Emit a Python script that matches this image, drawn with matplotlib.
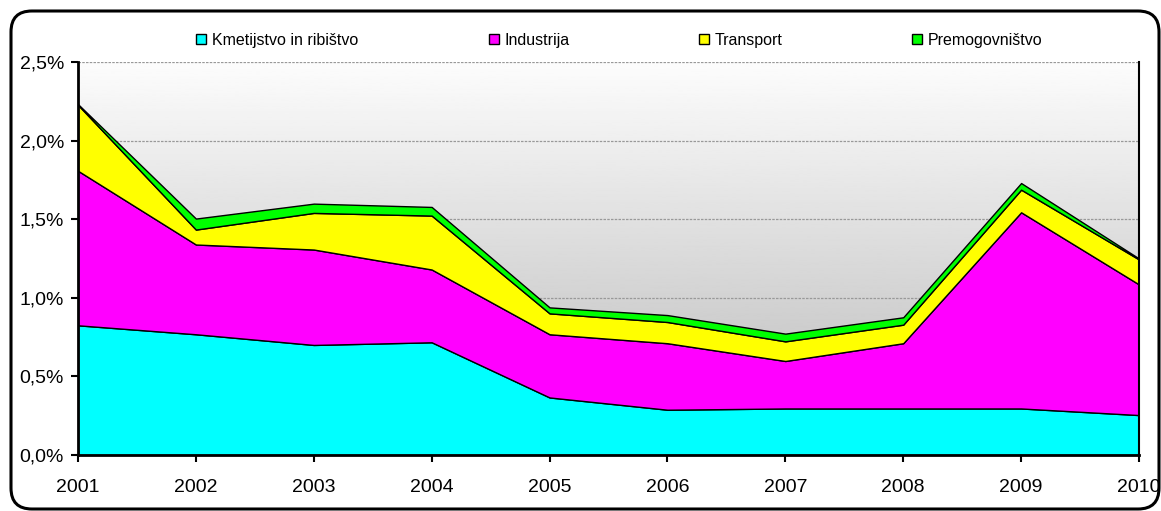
import numpy as np
import matplotlib.pyplot as plt
from matplotlib.patches import FancyBboxPatch, Patch
from matplotlib.ticker import FuncFormatter

plt.rcParams['font.family'] = ['Liberation Sans', 'DejaVu Sans']

# shares in %
years = [2001, 2002, 2003, 2004, 2005, 2006, 2007, 2008, 2009, 2010]
kmetijstvo = [0.825, 0.768, 0.700, 0.717, 0.366, 0.288, 0.296, 0.296, 0.296, 0.254]
industrija = [0.983, 0.571, 0.607, 0.463, 0.402, 0.423, 0.302, 0.415, 1.248, 0.831]
transport = [0.419, 0.095, 0.233, 0.343, 0.133, 0.135, 0.125, 0.118, 0.144, 0.159]
premog = [0.005, 0.070, 0.059, 0.055, 0.038, 0.044, 0.049, 0.047, 0.042, 0.006]

labels = ['Kmetijstvo in ribištvo', 'Industrija', 'Transport', 'Premogovništvo']
colors = ['#00ffff', '#ff00ff', '#ffff00', '#00ff00']

fig = plt.figure(figsize=(11.61, 5.11), dpi=100)
ax = fig.add_axes([78 / 1161, 56 / 511, 1061 / 1161, 393 / 511])

# gradient background of the plot area
grad = np.linspace(0.99, 0.72, 256).reshape(-1, 1)
ax.imshow(grad, cmap='gray', vmin=0, vmax=1, aspect='auto',
          extent=[0, 1, 0, 1], transform=ax.transAxes, zorder=0)

for yv in [0.5, 1.0, 1.5, 2.0, 2.5]:
    ax.axhline(yv, color='#999999', lw=0.9, ls=(0, (2, 1)), zorder=1)

ax.stackplot(years, kmetijstvo, industrija, transport, premog,
             colors=colors, edgecolor='black', linewidth=1.0, zorder=2)

ax.set_xlim(2001, 2010)
ax.set_ylim(0, 2.5)
ax.set_xticks(years)
ax.set_yticks([0, 0.5, 1.0, 1.5, 2.0, 2.5])
ax.yaxis.set_major_formatter(FuncFormatter(lambda v, p: f'{v:.1f}%'.replace('.', ',')))
ax.tick_params(axis='both', direction='out', length=5, width=1.5, labelsize=14)
ax.tick_params(axis='x', pad=12)
ax.tick_params(axis='y', pad=5)

for s in ['left', 'bottom']:
    ax.spines[s].set_linewidth(2)
ax.spines['right'].set_linewidth(1.5)
ax.spines['top'].set_visible(False)
for sp in ax.spines.values():
    sp.set_zorder(5)

# legend entries placed separately like in the original
leg_x = [196, 489, 699, 912]
for lab, col, lx in zip(labels, colors, leg_x):
    h = Patch(facecolor=col, edgecolor='black', linewidth=1)
    lg = fig.legend(handles=[h], labels=[lab], loc='center left',
                    bbox_to_anchor=(lx / 1161, 1 - 40 / 511), frameon=False,
                    fontsize=11.5, handlelength=0.65, handleheight=0.65,
                    handletextpad=0.35, borderpad=0, borderaxespad=0)

# rounded frame around the figure
frame = FancyBboxPatch((11 / 1161, 2 / 511), 1148 / 1161, 498 / 511,
                       boxstyle='round,pad=0,rounding_size=0.018',
                       transform=fig.transFigure, facecolor='none',
                       edgecolor='black', linewidth=2.2, mutation_aspect=1161 / 511)
fig.patches.append(frame)

fig.savefig('out.png', dpi=100)
